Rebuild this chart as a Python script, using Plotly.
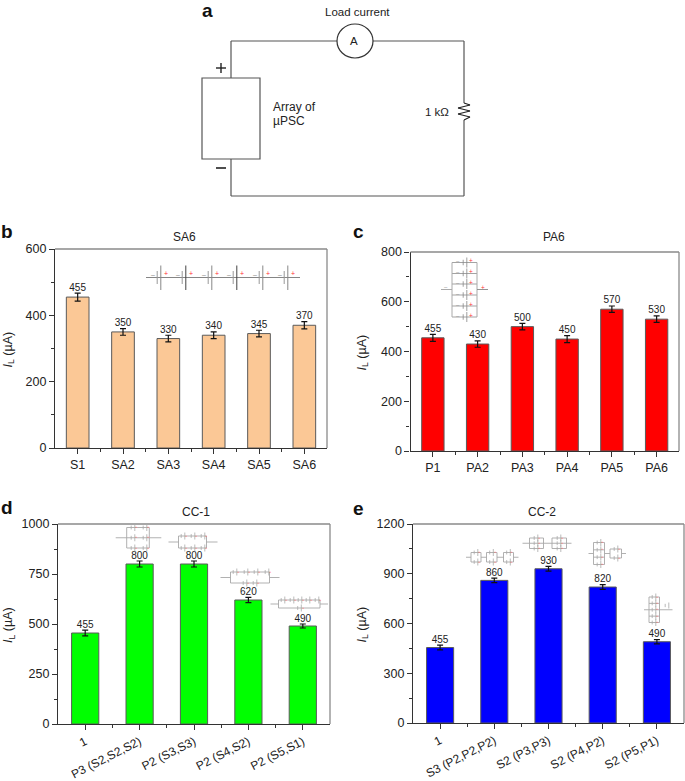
import plotly.graph_objects as go

W, H = 685, 781
FONT = "Liberation Sans"
INK = "#222222"
WIRE = "#555555"
PALE = "#a8a8a8"

cats_b = ["S1", "SA2", "SA3", "SA4", "SA5", "SA6"]
vals_b = [455, 350, 330, 340, 345, 370]
errs_b = [12, 10, 10, 10, 10, 11]

cats_c = ["P1", "PA2", "PA3", "PA4", "PA5", "PA6"]
vals_c = [455, 430, 500, 450, 570, 530]
errs_c = [14, 13, 13, 14, 13, 13]

cats_d = ["1", "P3 (S2,S2,S2)", "P2 (S3,S3)", "P2 (S4,S2)", "P2 (S5,S1)"]
vals_d = [455, 800, 800, 620, 490]
errs_d = [14, 15, 15, 13, 10]

cats_e = ["1", "S3 (P2,P2,P2)", "S2 (P3,P3)", "S2 (P4,P2)", "S2 (P5,P1)"]
vals_e = [455, 860, 930, 820, 490]
errs_e = [14, 14, 14, 14, 13]

panels = [
    dict(c=cats_b, v=vals_b, e=errs_b, color="#FBC896", title="SA6", box=(55, 327, 249, 448),
         ymax=600, dtick=200, angle=0, xfont=12.5, ylab=8, tx=184, ty=237),
    dict(c=cats_c, v=vals_c, e=errs_c, color="#FF0000", title="PA6", box=(410.5, 679, 252, 451),
         ymax=800, dtick=200, angle=0, xfont=12.5, ylab=362, tx=554, ty=237),
    dict(c=cats_d, v=vals_d, e=errs_d, color="#00FF00", title="CC-1", box=(58, 330, 524, 724),
         ymax=1000, dtick=250, angle=-27, xfont=12, ylab=9, tx=196, ty=512),
    dict(c=cats_e, v=vals_e, e=errs_e, color="#0000FF", title="CC-2", box=(413, 684, 524, 723),
         ymax=1200, dtick=300, angle=-27, xfont=12, ylab=362, tx=542, ty=512),
]


def px(x):
    return x / W


def py(y):
    return 1 - y / H


shapes, annos = [], []


def line(x0, y0, x1, y1, color=WIRE, width=1.2):
    shapes.append(dict(type="line", xref="paper", yref="paper", x0=px(x0), x1=px(x1),
                       y0=py(y0), y1=py(y1), line=dict(color=color, width=width), layer="above"))


def text(x, y, s, size=12, color=INK, anchor="center", bold=False, angle=0):
    annos.append(dict(xref="paper", yref="paper", x=px(x), y=py(y), text=f"<b>{s}</b>" if bold else s,
                      showarrow=False, xanchor=anchor, yanchor="middle", textangle=angle,
                      font=dict(family=FONT, size=size, color=color)))


fig = go.Figure()
for i, p in enumerate(panels, start=1):
    l, r, t, b = p["box"]
    xs = list(range(len(p["c"])))
    xa, ya = f"x{i}", f"y{i}"
    fig.add_trace(go.Bar(x=xs, y=p["v"], width=0.5, xaxis=xa, yaxis=ya,
                         marker=dict(color=p["color"], line=dict(color="#5a5a5a", width=1)),
                         error_y=dict(type="data", array=p["e"], color="#111111", thickness=1.2, width=3),
                         showlegend=False, hoverinfo="skip"))
    fig.add_trace(go.Scatter(x=xs, y=[v + e for v, e in zip(p["v"], p["e"])], text=[str(v) for v in p["v"]],
                             mode="text", textposition="top center", xaxis=xa, yaxis=ya, cliponaxis=False,
                             textfont=dict(family=FONT, size=10, color=INK),
                             showlegend=False, hoverinfo="skip"))
    fig.update_layout({
        f"xaxis{i}": dict(domain=[px(l), px(r)], anchor=ya, range=[-0.5, len(xs) - 0.5], automargin=False,
                          tickmode="array", tickvals=xs, ticktext=p["c"], tickangle=p["angle"],
                          ticks="outside", ticklen=5, tickwidth=1, tickcolor="#333333",
                          minor=dict(tickvals=[x + 0.5 for x in xs[:-1]], ticks="outside", ticklen=3,
                                     tickwidth=1, tickcolor="#333333"),
                          showline=True, linecolor="#333333", linewidth=1.2, showgrid=False, zeroline=False,
                          tickfont=dict(family=FONT, size=p["xfont"], color=INK)),
        f"yaxis{i}": dict(domain=[py(b), py(t)], anchor=xa, range=[0, p["ymax"]], automargin=False,
                          tick0=0, dtick=p["dtick"], ticks="outside", ticklen=5, tickwidth=1, tickcolor="#333333",
                          minor=dict(dtick=p["dtick"] / 2, ticks="outside", ticklen=3, tickwidth=1,
                                     tickcolor="#333333"),
                          showline=True, linecolor="#333333", linewidth=1.2, showgrid=False, zeroline=False,
                          tickfont=dict(family=FONT, size=12.5, color=INK)),
    })
    line(l, t, r, t, "#8a8a8a", 1.3)
    line(r, t, r, b, "#8a8a8a", 1.3)
    text(p["tx"], p["ty"], p["title"], 12)
    text(p["ylab"], (t + b) / 2 + 1, "<i>I</i><sub>L</sub> (µA)", 12.5, angle=-90)

for lab, x, y in [("a", 207, 11), ("b", 7, 232), ("c", 358, 232), ("d", 7, 507), ("e", 358, 508)]:
    text(x, y, lab, 19, "#111111", bold=True)

# Panel a: circuit
line(231, 78, 231, 41)
line(231, 41, 337, 41)
line(373, 41, 464, 41)
line(464, 41, 464, 103)
line(464, 120, 464, 196)
line(464, 196, 231, 196)
line(231, 196, 231, 159)
shapes.append(dict(type="rect", xref="paper", yref="paper", x0=px(202), x1=px(260), y0=py(159), y1=py(78),
                   line=dict(color=WIRE, width=1.2), layer="above"))
shapes.append(dict(type="circle", xref="paper", yref="paper", x0=px(337), x1=px(373), y0=py(58), y1=py(24),
                   line=dict(color="#333333", width=1.2), layer="above"))
zig = [(464, 103), (470, 105), (458, 108), (470, 111), (458, 114), (470, 117), (464, 120)]
for a, c in zip(zig, zig[1:]):
    line(a[0], a[1], c[0], c[1], "#222222", 1.2)
line(216, 68, 226, 68, "#222222", 1.4)
line(221, 63, 221, 73, "#222222", 1.4)
line(216, 168, 226, 168, "#222222", 1.6)
text(357, 12, "Load current", 11.5)
text(354, 41, "A", 11.5)
text(271, 107, "Array of", 12, anchor="left")
text(271, 121, "µPSC", 12, anchor="left")
text(437, 112, "1 kΩ", 11.5)


def cell(x, y, h=6, color=PALE):
    line(x - 1.8, y - h * 0.55, x - 1.8, y + h * 0.55, color, 0.8)
    line(x + 1.8, y - h, x + 1.8, y + h, color, 0.8)


# Panel b inset: six cells in series
line(146, 277.5, 300, 277.5, "#777777", 0.9)
for cx, plate in zip([159, 184, 210, 235, 261, 286], ["#888888", "#444444", "#888888", "#444444", "#888888", "#888888"]):
    line(cx - 1.8, 271, cx - 1.8, 284, "#999999", 1)
    line(cx + 1.8, 265.5, cx + 1.8, 290, plate, 1)
    text(cx - 6.5, 274, "–", 7, "#888888")
    text(cx + 6.5, 273.5, "+", 7, "#ff3030")

# Panel c inset: six cells in parallel
for yy in [262.5, 273.5, 284, 295, 306, 317]:
    line(452, yy, 477, yy, "#999999", 0.9)
    cell(465, yy, 5, "#888888")
    text(458.5, yy - 1.5, "–", 6, "#888888")
    text(471.5, yy - 2, "+", 6.5, "#ff3030")
line(452, 262.5, 452, 317, "#aaaaaa", 1)
line(477, 262.5, 477, 317, "#aaaaaa", 1)
line(441, 289.5, 452, 289.5, "#aaaaaa", 1)
line(477, 289.5, 488, 289.5, "#888888", 0.9)
text(446, 287, "–", 6, "#888888")
text(483, 287.5, "+", 6.5, "#ff3030")


def network(x0, x1, y0, y1, rows, lead_l, lead_r):
    """Rectangular loop with parallel rows; each row lists its cell x positions."""
    n = len(rows)
    ys = [y0 + (y1 - y0) * k / (n - 1) for k in range(n)]
    line(x0, y0, x0, y1, PALE, 0.9)
    line(x1, y0, x1, y1, PALE, 0.9)
    for yy, row in zip(ys, rows):
        line(x0, yy, x1, yy, PALE, 0.9)
        for cx in row:
            cell(cx, yy, 3.5)
            text(cx + 3.5, yy - 1, "+", 4, "#ff6060")
    ym = (y0 + y1) / 2
    if lead_l:
        line(x0 - lead_l, ym, x0, ym, PALE, 0.9)
    if lead_r:
        line(x1, ym, x1 + lead_r, ym, PALE, 0.9)


# Panel d insets
network(126.7, 149.3, 527.5, 548, [[133, 145]] * 3, 11, 12)
network(178.5, 206.5, 536, 548, [[183, 193, 203]] * 2, 10, 11)
network(230.5, 269.5, 572, 583, [[235, 246, 256, 267], [245, 255]], 10, 10)
network(278.5, 320, 600, 608, [[283, 292, 300, 308, 317], [299.5]], 8, 8)

# Panel e insets
network(471, 481, 552.5, 562, [[476], [476]], 5, 5.5)
network(486.5, 497, 552.5, 562, [[491.5], [491.5]], 0, 7)
network(503.5, 513.5, 552.5, 562, [[508.5], [508.5]], 0, 5)
network(529.5, 543.5, 538, 548.5, [[536]] * 3, 7, 8.5)
network(552, 566.5, 538, 548.5, [[559]] * 3, 0, 5)
network(593.5, 604.5, 542.5, 564.5, [[599]] * 4, 5, 5.5)
network(610, 621.5, 549, 558, [[616]] * 2, 0, 4.5)
network(649, 659.5, 597, 622.5, [[654]] * 5, 5, 13)
cell(667, 605.5, 3)

fig.update_layout(
    width=W, height=H, margin=dict(l=0, r=0, t=0, b=0), autosize=False,
    paper_bgcolor="white", plot_bgcolor="white", barmode="overlay",
    shapes=shapes, annotations=annos, font=dict(family=FONT, color=INK),
)
fig.write_html("out.html", config={"displayModeBar": False},
               post_script="document.body.style.margin='0';")
